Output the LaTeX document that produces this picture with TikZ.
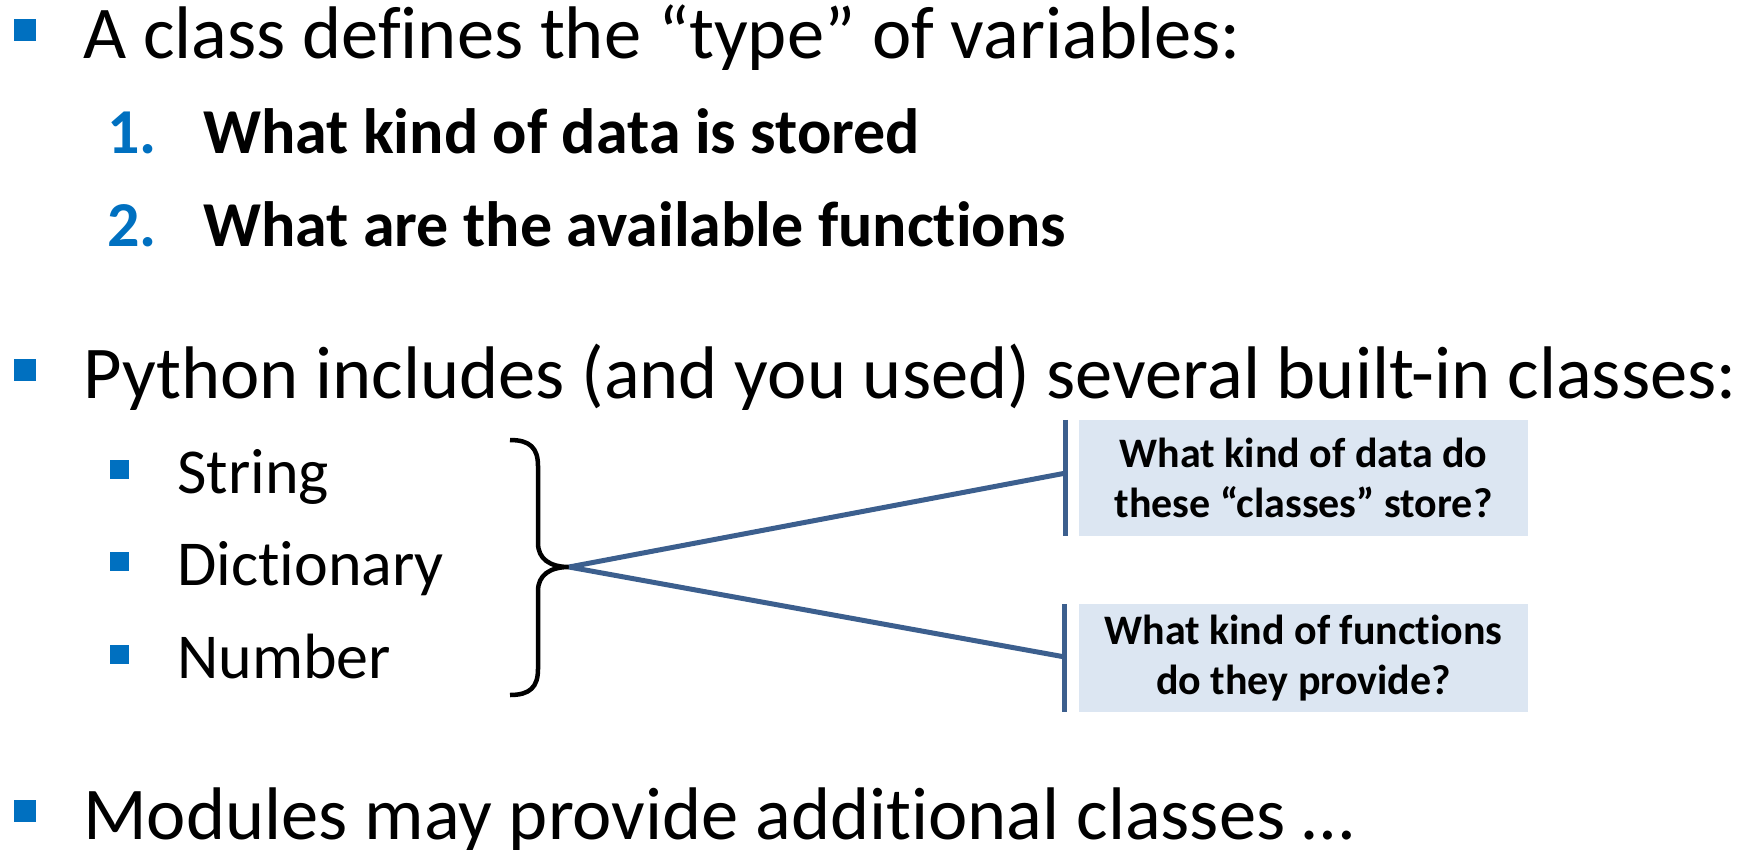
\documentclass[tikz,border=0pt]{standalone}
\usepackage{fontspec}
\setmainfont{Carlito}[Ligatures={NoCommon,NoContextual}]
\definecolor{bulletblue}{HTML}{0070C0}
\definecolor{linkblue}{HTML}{3C5F8E}
\definecolor{boxfill}{HTML}{DCE6F2}
\begin{document}
\begin{tikzpicture}[x=1pt,y=-1pt,
  lvlone/.style={anchor=base west, inner sep=0pt, font=\fontsize{74.5}{89}\selectfont},
  lvltwo/.style={anchor=base west, inner sep=0pt, font=\fontsize{64}{77}\selectfont},
  boldtwo/.style={anchor=base west, inner sep=0pt, font=\fontsize{64}{77}\selectfont\bfseries},
  numlbl/.style={boldtwo, text=bulletblue},
  sqbullet/.style={fill=bulletblue, inner sep=0pt, minimum size=22pt},
  subbullet/.style={fill=bulletblue, inner sep=0pt, minimum size=19pt},
  callout/.style={fill=boxfill, inner sep=0pt, minimum width=449pt, align=center,
    font=\fontsize{42}{50}\selectfont\bfseries},
  barline/.style={draw=linkblue, line width=5pt},
  connector/.style={draw=linkblue, line width=5pt},
  bracestyle/.style={draw=black, line width=4.5pt}
]
\useasboundingbox (0,0) rectangle (1758,849);

% level one items
\node[sqbullet] (b1) at (25,30) {};
\node[lvlone] (t1) at (83,58) {A class defines the “type” of variables:};
\node[numlbl] (n1) at (107,153) {1.};
\node[boldtwo] (q1) at (203,153) {What kind of data is stored};
\node[numlbl] (n2) at (107,246) {2.};
\node[boldtwo] (q2) at (203,246) {What are the available functions};

\node[sqbullet] (b2) at (25,370) {};
\node[lvlone] (t2) at (83,398) {Python includes (and you used) several built-in classes:};

\node[subbullet] (s1) at (119,469) {};
\node[lvltwo] (st1) at (177,493) {String};
\node[subbullet] (s2) at (119,561) {};
\node[lvltwo] (st2) at (177,585) {Dictionary};
\node[subbullet] (s3) at (119,654) {};
\node[lvltwo] (st3) at (177,678) {Number};

\node[sqbullet] (b3) at (25,811) {};
\node[lvlone] (t3) at (83,839) {Modules may provide additional classes …};

% brace
\coordinate (tip) at (569,567);
\draw[bracestyle] (510,440) .. controls (530,440) and (538,448) .. (538,466)
  -- (538,543) .. controls (538,559) and (550,567) .. (tip)
  .. controls (550,567) and (538,575) .. (538,591)
  -- (538,669) .. controls (538,687) and (530,695) .. (510,695);

% callouts
\node[callout, minimum height=116pt] (box1) at (1303.5,478) {What kind of data do\\these “classes” store?};
\node[callout, minimum height=108pt] (box2) at (1303.5,658) {What kind of functions\\do they provide?};
\draw[barline] ([xshift=-13pt]box1.north west) -- ([xshift=-13pt]box1.south west);
\draw[barline] ([xshift=-14pt]box2.north west) -- ([xshift=-14pt]box2.south west);

\coordinate (end1) at (1066,473);
\coordinate (end2) at (1065,657);
\draw[connector] (tip) -- (end1);
\draw[connector] (tip) -- (end2);
\end{tikzpicture}
\end{document}
